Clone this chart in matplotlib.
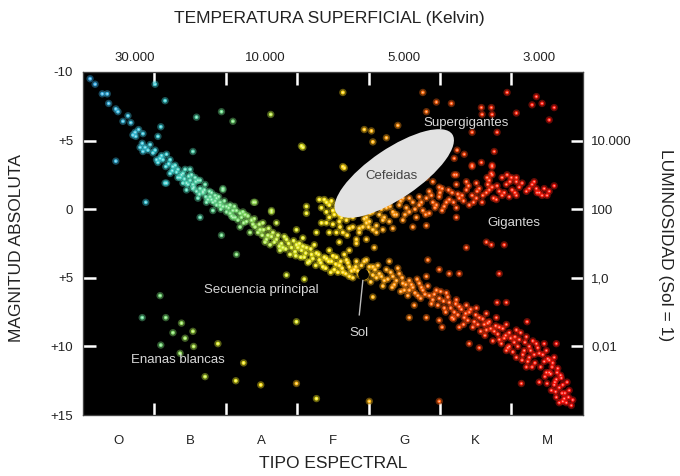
import matplotlib
matplotlib.use("Agg")
import matplotlib.pyplot as plt
import matplotlib.transforms as transforms
from matplotlib.patches import Ellipse
from matplotlib.colors import LinearSegmentedColormap
import numpy as np

plt.rcParams['font.family'] = ['Liberation Sans', 'DejaVu Sans']

# eje x: tipo espectral (0-7, O..M), eje y: magnitud absoluta
tipos = ['O', 'B', 'A', 'F', 'G', 'K', 'M']
temp_pos = [0.73, 2.55, 4.50, 6.39]
temp_labels = ['30.000', '10.000', '5.000', '3.000']
mag_ticks = [-10, -5, 0, 5, 10, 15]
mag_labels = ['-10', '+5', '0', '+5', '+10', '+15']
lum_ticks = [-5, 0, 5, 10]
lum_labels = ['10.000', '100', '1,0', '0,01']

# secuencia principal
sp_x = [0.10, 0.17, 0.27, 0.34, 0.36, 0.46, 0.49, 0.56, 0.63, 0.67, 0.73, 0.78, 0.84, 0.70, 0.74,
        0.83, 0.80, 0.87, 0.84, 0.91, 0.98, 1.08, 1.12, 1.17, 1.05, 1.16, 1.26, 1.31, 1.22, 1.36,
        1.15, 1.40, 1.50, 1.54, 1.61, 1.45, 1.59, 1.68, 1.78, 1.82, 1.73, 1.92, 1.96, 2.01, 2.10,
        1.64, 2.20, 0.94, 1.01, 1.03, 1.22, 1.29, 1.43, 1.33, 1.52, 1.47, 1.64, 1.71, 1.85, 1.87,
        2.06, 2.13, 2.27,
        1.40, 1.50, 1.57, 1.64, 1.45, 1.54, 1.68, 1.80, 1.61, 1.75, 1.87, 1.96, 1.92, 2.01, 1.82,
        2.06, 2.15, 2.10, 2.22, 2.29, 2.36, 2.20, 2.41, 2.48, 2.52, 2.34, 2.59, 2.66, 2.71, 2.55,
        2.78, 2.85, 2.80, 2.92, 2.99, 2.97, 3.06, 3.13, 3.10, 3.20, 3.27, 3.31, 3.41, 3.48, 3.55,
        3.36, 3.59, 3.69, 3.73, 3.80, 3.64, 4.01, 4.06, 2.51, 2.62, 2.90, 3.03, 3.17, 3.45, 3.52,
        3.66, 3.83, 3.87, 3.94, 3.73, 3.24, 2.76,
        3.97, 4.06, 4.15, 4.25, 4.34, 4.43, 4.48, 4.57, 4.62, 4.71, 4.76, 4.81, 4.85, 4.95, 4.99,
        5.09, 5.13, 5.23, 5.27, 5.37, 5.41, 5.51, 5.55, 5.65, 5.69, 5.79, 5.83, 5.93, 5.97, 6.07,
        6.11, 6.21, 6.25, 6.35, 6.39, 6.49, 6.53, 6.60, 6.57, 6.64, 6.63, 6.67, 6.71, 6.63, 6.77,
        6.67, 6.56, 6.81, 4.57, 5.03, 5.41, 5.55, 5.93, 6.15, 6.29, 6.49, 6.14, 6.39, 4.64, 4.81,
        4.99, 4.06, 4.57, 5.17, 5.27, 5.65, 5.83, 5.97, 6.07, 6.21, 6.25, 6.46, 6.63, 6.22, 5.93,
        5.80, 4.22, 4.36, 4.50, 4.69, 4.90, 5.06, 5.20, 5.34, 5.48, 5.62, 5.76, 5.90, 6.04, 6.18,
        6.32, 6.46, 6.53, 6.70, 6.74, 6.84, 6.60, 4.41, 4.13, 4.29,
        1.10, 1.20, 1.25, 1.33, 1.38, 1.42, 1.48, 1.55, 1.58, 1.63, 1.70, 1.72, 1.77, 1.80, 1.85,
        1.90, 1.93, 1.98, 2.04, 2.08,
        2.12, 2.17, 2.24, 2.25, 2.31, 2.38, 2.40, 2.45, 2.47, 2.53, 2.57, 2.60, 2.64, 2.68, 2.73,
        2.75, 2.82, 2.84, 2.88, 2.95, 2.98, 3.01,
        3.05, 3.08, 3.12, 3.15, 3.19, 3.22, 3.26, 3.30, 3.33, 3.38, 3.40, 3.44, 3.47, 3.50, 3.54,
        3.57, 3.61, 3.63, 3.68, 3.71, 3.76, 3.78, 3.82, 3.85, 3.90, 3.96, 3.99,
        4.03, 4.09, 4.11, 4.18, 4.20, 4.27, 4.31, 4.33, 4.39, 4.45, 4.47, 4.52, 4.55, 4.60, 4.65,
        4.68, 4.73, 4.74, 4.79, 4.83, 4.88, 4.92, 4.97, 5.01,
        5.05, 5.08, 5.11, 5.15, 5.19, 5.22, 5.25, 5.30, 5.33, 5.36, 5.39, 5.43, 5.46, 5.50, 5.53,
        5.57, 5.60, 5.63, 5.67, 5.71, 5.74, 5.78, 5.81, 5.86, 5.88, 5.92, 5.95, 5.99,
        6.02, 6.05, 6.09, 6.13, 6.16, 6.19, 6.23, 6.27, 6.30, 6.33, 6.37, 6.41, 6.44, 6.47, 6.51,
        6.55, 6.58, 6.61, 6.65, 6.69, 6.72, 6.75, 6.78, 6.80, 6.72, 6.86, 6.62, 6.50]
sp_m = [-9.5, -9.1, -8.4, -8.4, -7.7, -7.3, -7.1, -6.4, -6.8, -6.3, -5.6, -5.8, -5.5, -5.4, -5.3,
        -4.8, -4.5, -4.5, -4.2, -4.3, -4.1, -3.7, -3.6, -4.0, -3.4, -3.1, -3.1, -2.7, -2.6, -2.3,
        -1.9, -1.9, -2.1, -1.8, -2.1, -1.4, -1.3, -1.2, -0.9, -0.5, -0.5, -0.5, -0.2, 0.2, 0.1,
        0.6, 0.3, -4.7, -4.3, -3.6, -3.6, -3.2, -2.9, -2.3, -2.5, -1.8, -1.5, -1.8, -1.0, -0.3,
        -0.3, 0.6, 0.4,
        -2.6, -2.9, -2.3, -2.1, -1.9, -1.5, -1.3, -1.2, -0.8, -0.7, -0.8, -1.4, -0.3, -0.2, 0.1,
        0.3, 0.1, 0.6, 0.6, 0.9, 0.8, 1.3, 1.3, 1.5, 1.0, 1.7, 1.9, 1.7, 2.2, 2.4,
        2.5, 2.2, 2.8, 2.8, 2.6, 3.1, 3.0, 2.8, 3.5, 3.3, 3.2, 3.7, 3.6, 3.8, 3.5,
        4.2, 4.1, 3.7, 4.2, 4.4, 4.6, 4.2, 4.8, 1.9, 2.6, 3.3, 2.5, 3.8, 3.0, 4.4,
        3.3, 3.8, 4.8, 3.8, 4.9, 2.6, 3.0,
        3.7, 4.2, 4.7, 4.4, 4.9, 4.7, 5.4, 5.2, 5.7, 5.4, 5.9, 4.9, 6.3, 5.9, 6.5,
        6.1, 6.8, 6.6, 7.1, 7.0, 7.5, 7.2, 7.9, 7.6, 8.2, 7.9, 8.6, 8.4, 9.0, 8.8,
        9.5, 9.3, 10.0, 9.8, 10.5, 10.3, 11.0, 10.8, 11.5, 11.9, 12.4, 13.0, 13.4, 13.7, 14.1,
        14.1, 13.2, 13.2, 7.9, 8.6, 9.8, 10.1, 10.3, 11.0, 11.5, 11.9, 12.7, 12.6, 7.0, 7.9,
        8.1, 6.4, 5.9, 7.9, 8.6, 8.8, 9.5, 10.0, 10.8, 11.5, 10.8, 9.8, 9.8, 8.2, 6.8,
        6.8, 5.2, 5.5, 5.9, 6.3, 6.6, 7.2, 7.5, 7.9, 8.2, 8.4, 8.9, 9.4, 9.7, 10.3,
        10.6, 11.1, 11.9, 12.3, 13.8, 14.3, 12.8, 4.3, 4.1, 3.8,
        -3.9, -3.3, -2.8, -2.9, -2.5, -2.2, -2.4, -1.6, -2.0, -1.1, -1.4, -0.9, -1.3, -0.7, -0.6,
        -0.9, 0.0, -0.6, -0.1, 0.5,
        -0.2, 0.8, 0.2, 1.0, 0.5, 1.1, 0.7, 1.7, 1.1, 1.5, 2.2, 1.4, 2.0, 2.4, 1.9,
        2.7, 2.0, 2.9, 2.5, 2.3, 3.4, 2.8,
        3.5, 2.7, 3.2, 3.9, 2.9, 3.6, 4.1, 3.3, 3.9, 3.5, 4.3, 3.8, 4.6, 3.4, 4.0,
        4.6, 3.8, 4.3, 4.7, 3.9, 4.5, 5.0, 4.2, 4.5, 4.1, 5.0, 4.6,
        5.3, 4.4, 5.0, 4.9, 5.6, 5.1, 4.6, 5.7, 5.2, 6.0, 5.0, 5.5, 6.3, 5.5, 6.1,
        5.1, 6.5, 5.7, 6.2, 5.6, 6.9, 6.2, 7.0, 6.0,
        6.7, 7.5, 6.4, 7.2, 8.0, 6.9, 7.7, 7.3, 8.4, 7.6, 8.1, 7.3, 8.6, 7.7, 8.4,
        8.9, 8.0, 9.2, 8.3, 8.7, 9.6, 8.5, 9.1, 9.8, 8.7, 9.2, 10.1, 9.4,
        10.4, 9.3, 10.0, 9.0, 10.6, 9.7, 11.1, 10.3, 9.6, 11.2, 10.1, 11.5, 10.6, 12.2, 10.9,
        12.0, 11.2, 12.6, 11.6, 12.1, 12.8, 13.4, 12.6, 13.7, 14.0, 13.9, 13.3, 12.7]

# gigantes
gi_x = [3.41, 3.50, 3.45, 3.59, 3.69, 3.78, 3.87, 3.97, 4.06, 3.83, 3.97, 4.08, 3.73, 3.38, 3.45,
        3.41, 3.52, 3.62, 3.69, 3.78, 3.59, 3.87, 3.97, 4.06, 4.15, 4.25, 4.34, 4.43, 4.53, 4.62,
        4.71, 4.81, 4.90, 4.99, 5.09, 5.17, 5.27, 5.37, 5.45, 5.55, 5.65, 5.73, 5.83, 5.93, 6.01,
        6.11, 6.21, 6.29, 6.39, 5.97, 5.79, 5.59, 5.41, 5.23, 5.03, 4.85, 4.67, 4.48, 4.29, 4.11,
        3.92, 3.73, 5.37, 5.51, 5.69, 5.87, 6.07, 5.23, 5.03, 4.85, 4.71, 4.48, 4.29, 4.11, 3.87,
        4.11, 4.34, 3.83, 3.64, 3.45, 3.27, 3.41, 4.81, 5.23, 4.62, 5.20, 5.45, 5.73, 5.73, 6.00,
        6.32, 6.36, 6.46, 6.53, 6.60, 6.50, 4.95, 5.13, 5.31, 5.51, 5.69, 5.87, 6.07, 4.36, 4.57,
        4.76, 4.20, 4.01, 3.55, 3.34, 3.31,
        3.48, 3.56, 3.65, 3.72, 3.80, 3.90, 3.94, 4.02, 4.09, 4.18, 4.22, 4.30, 4.39, 4.45, 4.51,
        4.57, 4.65, 4.74, 4.80, 4.88, 4.93, 5.00, 5.06, 5.12, 5.19, 5.25, 5.33, 5.40, 5.47, 5.52,
        5.60, 5.67, 5.75, 5.80, 5.90, 5.98, 6.05, 6.15, 6.25, 6.35, 6.43, 3.60, 3.70, 3.50, 4.00,
        4.20]
gi_m = [-0.5, 0.1, 0.6, 0.4, 0.8, 1.3, 1.4, 1.0, 1.5, 2.5, 2.2, 2.8, 3.0, -0.7, -0.3,
        0.2, 0.4, 0.6, 0.2, 0.6, 0.9, 0.3, 0.6, 0.2, 0.4, -0.1, 0.2, -0.3, -0.1, -0.5,
        -0.3, -0.8, -0.5, -0.9, -0.5, -1.2, -0.8, -1.4, -1.0, -1.5, -1.2, -1.6, -1.3, -1.8, -1.4,
        -1.6, -1.3, -1.8, -1.2, -0.9, -0.7, -0.5, -0.3, -0.1, 0.1, 0.3, 0.6, 0.8, 0.9, 1.2,
        1.3, 1.4, -2.0, -1.9, -2.1, -2.3, -2.0, -1.8, -1.5, -1.3, -0.9, -0.8, -0.5, -0.2, 1.7,
        1.7, 1.4, 2.2, 1.7, 1.7, 1.7, 1.0, 1.2, 0.6, 1.3, -2.5, -3.2, -3.2, -2.5, -2.3,
        -2.0, -1.2, -1.5, -1.3, -1.7, -1.0, -0.3, -0.7, -1.0, -0.8, -1.4, -1.0, -1.0, 0.4, 0.2,
        0.1, 0.8, 0.9, -0.3, -0.1, -0.7,
        -0.6, 0.0, -0.2, 0.5, 0.1, -0.1, 0.7, 0.3, -0.3, 0.0, 0.6, -0.2, 0.4, -0.6, 0.4,
        -0.8, 0.0, -0.5, 0.4, -1.0, -0.1, -1.2, -0.2, -1.4, -0.5, -1.1, -0.6, -1.7, -0.5, -1.3,
        -1.0, -1.8, -0.8, -1.7, -1.2, -2.0, -1.2, -1.9, -1.5, -1.5, -1.0, 1.3, 1.9, 1.1, 1.3,
        1.5]

# supergigantes y estrellas dispersas
su_x = [3.64, 4.76, 4.95, 5.16, 4.81, 4.41, 3.94, 4.04, 4.06, 4.25, 3.66, 3.08, 5.94, 5.58, 5.72,
        5.59, 5.73, 6.07, 6.35, 6.43, 6.60, 6.53, 6.29, 5.45, 5.80, 5.24, 5.20, 5.34, 5.45, 5.58,
        5.73, 5.72, 5.23, 5.76, 5.94, 6.07, 5.66, 4.81, 4.90, 4.99,
        1.15, 1.59, 1.94, 2.10, 1.09, 1.05, 0.46, 1.54, 0.88, 1.17, 1.01, 1.96, 2.63, 3.06, 2.39,
        3.13, 3.13, 2.64, 2.41, 2.64, 2.71, 2.99, 3.34, 3.55, 3.59, 3.08, 3.64, 2.85, 2.15, 1.94,
        5.37, 5.65, 5.72, 5.90, 5.83, 4.99, 5.13, 5.27, 4.83, 2.99, 3.10, 3.27, 4.01, 4.99]
su_m = [-8.5, -8.5, -7.8, -7.7, -7.1, -6.1, -5.8, -5.7, -4.9, -5.2, -3.0, -4.5, -8.5, -7.4, -7.4,
        -6.9, -6.9, -7.0, -8.2, -7.7, -7.4, -6.5, -7.6, -5.6, -5.6, -4.3, -3.7, -4.0, -3.1, -3.4,
        -3.1, -2.6, -2.5, -4.2, -2.5, -2.3, -2.3, -2.3, -2.0, -1.6,
        -7.9, -6.7, -7.1, -6.4, -6.0, -5.3, -3.5, -4.2, -0.5, -1.9, -9.1, -1.5, -6.9, -4.6, -0.5,
        -0.2, 0.3, 0.2, -0.5, 0.1, 1.0, 1.5, 1.0, 1.7, 2.4, 2.1, -3.1, 4.8, 3.3, 1.9,
        2.8, 2.4, 2.6, 2.6, 4.7, 4.4, 4.7, 4.7, 3.7, 8.2, 5.1, 13.8, 14.0, 14.0]

# enanas blancas y estrellas debiles
en_x = [1.08, 0.83, 1.16, 1.38, 1.54, 1.26, 1.43, 1.55, 1.09, 1.36, 1.89, 1.71, 2.25, 2.14, 2.49,
        2.99]
en_m = [6.3, 7.9, 7.9, 8.3, 8.9, 9.0, 9.4, 10.0, 9.9, 10.5, 9.8, 12.2, 11.2, 12.5, 12.8, 12.7]

sol = (3.92, 4.7)

cmap = LinearSegmentedColormap.from_list('hr', [
    (0.0, '#3aa8e8'), (1.2 / 7, '#40d0d0'), (2.2 / 7, '#80e070'), (2.9 / 7, '#e0ee30'),
    (3.5 / 7, '#ffe418'), (4.0 / 7, '#ffbc18'), (4.8 / 7, '#ff6e10'), (5.8 / 7, '#ff2c10'),
    (1.0, '#ff1010')])


def estrellas(ax, xs, ms, shift=0.0):
    xs = np.array(xs)
    ms = np.array(ms)
    c = cmap(np.clip((xs + shift) / 7, 0, 1))
    light = 0.4 * c[:, :3] + 0.6
    ax.scatter(xs, ms, s=28, c=c, alpha=0.4, marker='o', linewidths=0, zorder=2)
    ax.scatter(xs, ms, s=8, c=c, marker='o', linewidths=0, zorder=3)
    ax.scatter(xs, ms, s=1.5, c=light, marker='o', linewidths=0, zorder=4)


fig = plt.figure(figsize=(6.8, 4.76), dpi=100)
ax = fig.add_axes([0.122, 0.128, 0.735, 0.721])
ax.set_facecolor('black')
ax.set_xlim(0, 7)
ax.set_ylim(15, -10)

estrellas(ax, sp_x, sp_m)
estrellas(ax, gi_x, gi_m)
estrellas(ax, su_x, su_m)
estrellas(ax, en_x, en_m, shift=1.0)

# Cefeidas
trans = fig.dpi_scale_trans + transforms.ScaledTranslation(4.36, -2.6, ax.transData)
ax.add_patch(Ellipse((0, 0), 1.40, 0.50, angle=34, transform=trans,
                     facecolor='#e2e2e2', edgecolor='none', zorder=6))

# Sol
ax.scatter([sol[0]], [sol[1]], s=45, c='black', zorder=7)
ax.plot([3.92, 3.87], [5.2, 7.7], color='#bbbbbb', lw=1, zorder=7)

txt = dict(color='#d8d8d8', fontsize=9.5, ha='center', va='center', zorder=8)
ax.text(5.37, -6.3, 'Supergigantes', **txt)
ax.text(6.04, 1.0, 'Gigantes', **txt)
ax.text(2.50, 5.9, 'Secuencia principal', **txt)
ax.text(3.87, 9.0, 'Sol', **txt)
ax.text(1.33, 11.0, 'Enanas blancas', **txt)
ax.text(4.32, -2.4, 'Cefeidas', color='#444444', fontsize=9.5, ha='center', va='center', zorder=8)

ax2 = ax.twiny()
ax2.set_xlim(0, 7)
ax2.set_xticks(temp_pos, labels=temp_labels)
ax2.tick_params(length=0, labelsize=9.5, colors='#222222', pad=6)

ax3 = ax.twinx()
ax3.set_ylim(15, -10)
ax3.set_yticks(lum_ticks, labels=lum_labels)
ax3.tick_params(length=0, labelsize=9.5, colors='#222222', pad=6)

ax.set_xticks([i + 0.5 for i in range(7)], labels=tipos)
ax.set_xticks(range(1, 7), minor=True)
ax.set_yticks(mag_ticks, labels=mag_labels)
ax.set_yticks(lum_ticks, minor=True)
ax.yaxis.remove_overlapping_locs = False
ax.tick_params(which='major', length=0, labelsize=9.5, colors='#222222')
ax.tick_params(axis='x', which='major', pad=14)
ax.tick_params(axis='y', which='major', pad=7)
ax.tick_params(which='minor', direction='in', length=9, width=1.8, color='white',
               top=True, bottom=True, left=True, right=True,
               labeltop=False, labelright=False)

for a in (ax, ax2, ax3):
    for s in a.spines.values():
        s.set_color('#444444')
        s.set_linewidth(0.8)

fig.text(0.485, 0.962, 'TEMPERATURA SUPERFICIAL (Kelvin)', ha='center', va='center',
         fontsize=12.5, color='#222222')
fig.text(0.49, 0.027, 'TIPO ESPECTRAL', ha='center', va='center', fontsize=12.5, color='#222222')
fig.text(0.025, 0.48, 'MAGNITUD ABSOLUTA', rotation=90, ha='center', va='center',
         fontsize=12.5, color='#222222')
fig.text(0.978, 0.485, 'LUMINOSIDAD (Sol = 1)', rotation=-90, ha='center', va='center',
         fontsize=12.5, color='#222222')

fig.savefig('out.png', dpi=100, facecolor='white')
